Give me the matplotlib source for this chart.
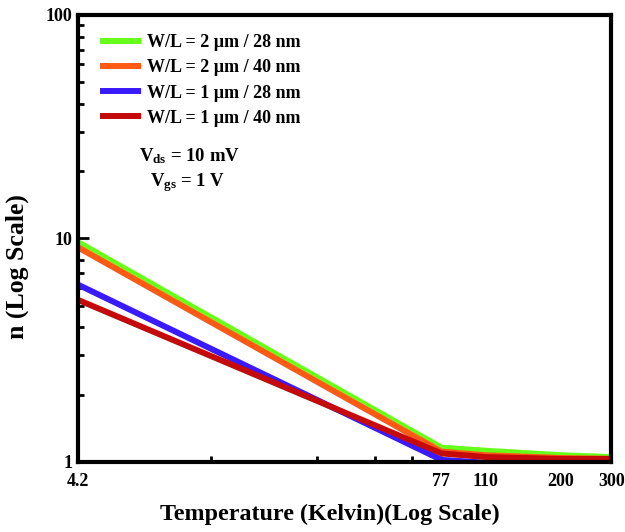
import numpy as np
import matplotlib.pyplot as plt
from matplotlib.ticker import FixedLocator, NullFormatter

plt.rcParams['font.family'] = ['Liberation Serif', 'DejaVu Serif']
plt.rcParams['font.weight'] = 'bold'
plt.rcParams['mathtext.fontset'] = 'custom'
plt.rcParams['mathtext.rm'] = 'Liberation Serif:bold'
plt.rcParams['mathtext.bf'] = 'Liberation Serif:bold'
plt.rcParams['mathtext.it'] = 'Liberation Serif:bold'

# temperatures (K)
temps = [4.2, 77, 110, 200, 300]

# ideality factor n for each device
n_2um_28nm = [9.6, 1.156, 1.12, 1.07, 1.05]
n_2um_40nm = [9.1, 1.11, 1.07, 1.04, 1.03]
n_1um_28nm = [6.2, 1.02, 0.99, 0.99, 0.99]
n_1um_40nm = [5.3, 1.09, 1.05, 1.03, 1.03]

labels = ['W/L = 2 µm / 28 nm', 'W/L = 2 µm / 40 nm',
          'W/L = 1 µm / 28 nm', 'W/L = 1 µm / 40 nm']
colors = ['#66ff1a', '#ff5a14', '#3a1aff', '#c40a0a']

xtick_vals = [4.2, 77, 110, 200, 300]
xminor_vals = [12.2, 28.4, 45.3, 61]

fig = plt.figure(figsize=(6.25, 5.32), dpi=100)
ax = fig.add_axes([0.125, 0.132, 0.853, 0.84])

series = [n_2um_28nm, n_2um_40nm, n_1um_28nm, n_1um_40nm]
for s, lab, c in zip(series, labels, colors):
    ax.plot(temps, s, color=c, lw=4.3, label=lab, solid_capstyle='butt')

ax.set_xscale('log')
ax.set_yscale('log')
ax.set_xlim(4.2, 300)
ax.set_ylim(1, 100)

ax.xaxis.set_major_locator(FixedLocator(xtick_vals))
ax.set_xticklabels(['4.2', '77', '110', '200', '300'])
ax.xaxis.set_minor_locator(FixedLocator(xminor_vals))
ax.xaxis.set_minor_formatter(NullFormatter())
ax.set_yticks([1, 10, 100])
ax.set_yticklabels(['1', '10', '100'])

ax.tick_params(axis='both', which='major', direction='in', width=2,
               labelsize=13, pad=8)
ax.tick_params(axis='y', which='major', length=8)
ax.tick_params(axis='x', which='major', length=4)
ax.tick_params(axis='both', which='minor', direction='in', width=2, length=4)
ax.tick_params(axis='y', which='major', pad=4)

for sp in ax.spines.values():
    sp.set_linewidth(3)

ax.set_xlabel('Temperature (Kelvin)(Log Scale)', fontsize=17.3, fontweight='bold')
ax.set_ylabel('n (Log Scale)', fontsize=18.5, fontweight='bold')
ax.xaxis.set_label_coords(0.473, -0.095)
ax.yaxis.set_label_coords(-0.092, 0.436)

leg = ax.legend(loc='upper left', frameon=False, fontsize=13,
                handlelength=2.3, handletextpad=0.3, labelspacing=0.45,
                bbox_to_anchor=(0.0, 1.005), borderaxespad=0.8)

ax.text(0.114, 0.672, r'V$_{\mathrm{ds}}$ = 10 mV', transform=ax.transAxes,
        fontsize=13.5, fontweight='bold')
ax.text(0.135, 0.617, r'V$_{\mathrm{gs}}$ = 1 V', transform=ax.transAxes,
        fontsize=13.5, fontweight='bold')

fig.savefig('out.png', dpi=100)
